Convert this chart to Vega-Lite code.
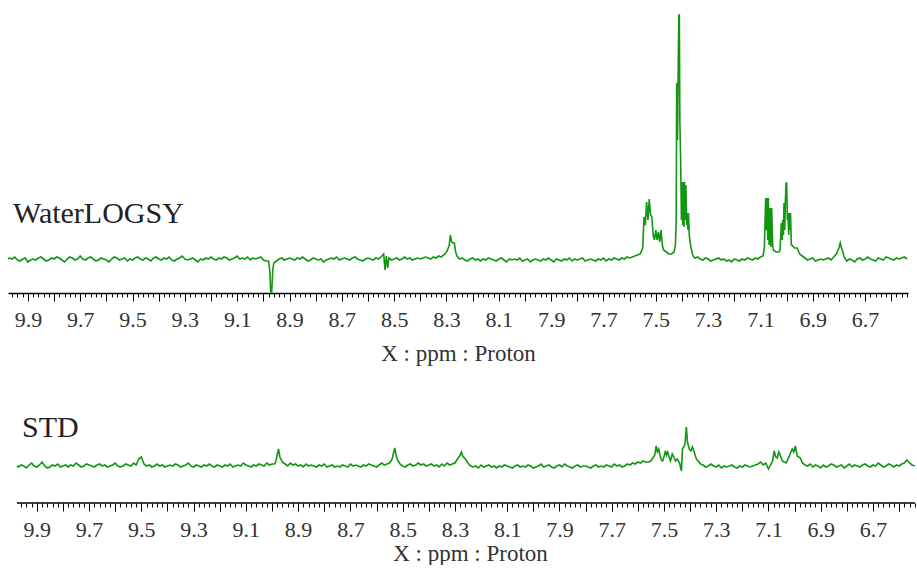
{
"$schema":"https://vega.github.io/schema/vega-lite/v6.json",
"padding":{"left":8,"top":10,"right":0,"bottom":0},
"background":"white",
"spacing":47,
"config":{"view":{"stroke":null},"font":"Liberation Serif, Times New Roman, Tinos, DejaVu Serif, serif",
"axis":{"domainColor":"#000","domainWidth":1.5,"tickColor":"#000","tickWidth":1,"labelFont":"Liberation Serif, Times New Roman, Tinos, DejaVu Serif, serif","labelFontSize":22,"labelColor":"#333","labelPadding":8,"titleFont":"Liberation Serif, Times New Roman, Tinos, DejaVu Serif, serif","titleFontSize":23,"titleFontWeight":"normal","titleColor":"#333","titlePadding":12,"grid":false,"labelFlush":false,"labelOverlap":false}},
"datasets":{
"W":[{"x":9.98,"y":1},{"x":9.97,"y":2},{"x":9.96,"y":1},{"x":9.95,"y":3},{"x":9.94,"y":0},{"x":9.93,"y":-1},{"x":9.92,"y":1},{"x":9.91,"y":2},{"x":9.90,"y":-2},{"x":9.89,"y":0},
{"x":9.88,"y":1},{"x":9.87,"y":0},{"x":9.86,"y":2},{"x":9.85,"y":3},{"x":9.84,"y":1},{"x":9.83,"y":-1},{"x":9.82,"y":0},{"x":9.81,"y":2},{"x":9.80,"y":1},{"x":9.79,"y":3},
{"x":9.78,"y":2},{"x":9.77,"y":0},{"x":9.76,"y":-2},{"x":9.75,"y":1},{"x":9.74,"y":3},{"x":9.73,"y":2},{"x":9.72,"y":0},{"x":9.71,"y":1},{"x":9.70,"y":4},{"x":9.69,"y":1},
{"x":9.68,"y":0},{"x":9.67,"y":2},{"x":9.66,"y":3},{"x":9.65,"y":1},{"x":9.64,"y":-1},{"x":9.63,"y":0},{"x":9.62,"y":2},{"x":9.61,"y":1},{"x":9.60,"y":0},{"x":9.59,"y":-2},
{"x":9.58,"y":1},{"x":9.57,"y":3},{"x":9.56,"y":2},{"x":9.55,"y":0},{"x":9.54,"y":1},{"x":9.53,"y":2},{"x":9.52,"y":-1},{"x":9.51,"y":1},{"x":9.50,"y":0},{"x":9.49,"y":2},
{"x":9.48,"y":3},{"x":9.47,"y":1},{"x":9.46,"y":0},{"x":9.45,"y":2},{"x":9.44,"y":1},{"x":9.43,"y":-1},{"x":9.42,"y":2},{"x":9.41,"y":3},{"x":9.40,"y":1},{"x":9.39,"y":0},
{"x":9.38,"y":2},{"x":9.37,"y":1},{"x":9.36,"y":3},{"x":9.35,"y":0},{"x":9.34,"y":-1},{"x":9.33,"y":1},{"x":9.32,"y":2},{"x":9.31,"y":4},{"x":9.30,"y":1},{"x":9.29,"y":0},
{"x":9.28,"y":1},{"x":9.27,"y":2},{"x":9.26,"y":0},{"x":9.25,"y":-2},{"x":9.24,"y":1},{"x":9.23,"y":0},{"x":9.22,"y":2},{"x":9.21,"y":1},{"x":9.20,"y":3},{"x":9.19,"y":1},
{"x":9.18,"y":0},{"x":9.17,"y":2},{"x":9.16,"y":1},{"x":9.15,"y":3},{"x":9.14,"y":2},{"x":9.13,"y":0},{"x":9.12,"y":1},{"x":9.11,"y":2},{"x":9.10,"y":4},{"x":9.09,"y":1},
{"x":9.08,"y":2},{"x":9.07,"y":1},{"x":9.06,"y":3},{"x":9.05,"y":0},{"x":9.04,"y":2},{"x":9.03,"y":1},{"x":9.02,"y":2},{"x":9.01,"y":3},{"x":9.00,"y":0},{"x":8.99,"y":-1},
{"x":8.98,"y":-1},{"x":8.975,"y":-12},{"x":8.972,"y":-32},{"x":8.968,"y":-32},{"x":8.964,"y":-10},{"x":8.96,"y":-3},
{"x":8.95,"y":-1},{"x":8.94,"y":1},{"x":8.93,"y":2},{"x":8.92,"y":0},{"x":8.91,"y":1},{"x":8.90,"y":2},{"x":8.89,"y":1},
{"x":8.88,"y":0},{"x":8.87,"y":2},{"x":8.86,"y":1},{"x":8.85,"y":3},{"x":8.84,"y":1},{"x":8.83,"y":-1},{"x":8.82,"y":0},{"x":8.81,"y":2},{"x":8.80,"y":1},{"x":8.79,"y":0},
{"x":8.78,"y":1},{"x":8.77,"y":-2},{"x":8.76,"y":0},{"x":8.75,"y":1},{"x":8.74,"y":2},{"x":8.73,"y":1},{"x":8.72,"y":3},{"x":8.71,"y":0},{"x":8.70,"y":1},{"x":8.69,"y":2},
{"x":8.68,"y":1},{"x":8.67,"y":0},{"x":8.66,"y":2},{"x":8.65,"y":3},{"x":8.64,"y":1},{"x":8.63,"y":0},{"x":8.62,"y":-1},{"x":8.61,"y":1},{"x":8.60,"y":2},{"x":8.59,"y":1},
{"x":8.58,"y":0},{"x":8.57,"y":2},{"x":8.56,"y":1},{"x":8.55,"y":3},{"x":8.54,"y":6},{"x":8.535,"y":-10},{"x":8.53,"y":4},{"x":8.525,"y":-8},{"x":8.52,"y":2},{"x":8.51,"y":0},
{"x":8.50,"y":1},{"x":8.49,"y":2},{"x":8.48,"y":0},{"x":8.47,"y":1},{"x":8.46,"y":3},{"x":8.45,"y":1},{"x":8.44,"y":2},{"x":8.43,"y":0},{"x":8.42,"y":1},{"x":8.41,"y":2},
{"x":8.40,"y":1},{"x":8.39,"y":2},{"x":8.38,"y":3},{"x":8.37,"y":2},{"x":8.36,"y":1},{"x":8.35,"y":3},{"x":8.34,"y":2},{"x":8.33,"y":4},{"x":8.32,"y":3},{"x":8.31,"y":5},
{"x":8.30,"y":8},{"x":8.29,"y":14},{"x":8.285,"y":25},{"x":8.28,"y":18},{"x":8.275,"y":17},{"x":8.27,"y":17},{"x":8.265,"y":8},{"x":8.26,"y":4},{"x":8.25,"y":1},
{"x":8.24,"y":2},{"x":8.23,"y":0},{"x":8.22,"y":-1},{"x":8.21,"y":1},{"x":8.20,"y":2},{"x":8.19,"y":0},{"x":8.18,"y":1},{"x":8.17,"y":-1},{"x":8.16,"y":1},{"x":8.15,"y":0},
{"x":8.14,"y":2},{"x":8.13,"y":1},{"x":8.12,"y":0},{"x":8.11,"y":-1},{"x":8.10,"y":1},{"x":8.09,"y":2},{"x":8.08,"y":0},{"x":8.07,"y":-2},{"x":8.06,"y":1},{"x":8.05,"y":0},
{"x":8.04,"y":1},{"x":8.03,"y":0},{"x":8.02,"y":2},{"x":8.01,"y":-1},{"x":8.00,"y":0},{"x":7.99,"y":1},{"x":7.98,"y":-2},{"x":7.97,"y":0},{"x":7.96,"y":1},{"x":7.95,"y":0},
{"x":7.94,"y":-1},{"x":7.93,"y":1},{"x":7.92,"y":0},{"x":7.91,"y":2},{"x":7.90,"y":0},{"x":7.89,"y":-2},{"x":7.88,"y":1},{"x":7.87,"y":0},{"x":7.86,"y":-1},{"x":7.85,"y":1},
{"x":7.84,"y":0},{"x":7.83,"y":2},{"x":7.82,"y":-1},{"x":7.81,"y":1},{"x":7.80,"y":0},{"x":7.79,"y":1},{"x":7.78,"y":2},{"x":7.77,"y":-1},{"x":7.76,"y":0},{"x":7.75,"y":1},
{"x":7.74,"y":0},{"x":7.73,"y":-1},{"x":7.72,"y":1},{"x":7.71,"y":0},{"x":7.70,"y":2},{"x":7.69,"y":-1},{"x":7.68,"y":1},{"x":7.67,"y":0},{"x":7.66,"y":2},{"x":7.65,"y":1},
{"x":7.64,"y":0},{"x":7.63,"y":2},{"x":7.62,"y":1},{"x":7.61,"y":3},{"x":7.60,"y":2},{"x":7.59,"y":3},{"x":7.58,"y":4},{"x":7.57,"y":5},{"x":7.56,"y":6},{"x":7.55,"y":12},
{"x":7.545,"y":43},{"x":7.54,"y":35},{"x":7.535,"y":58},{"x":7.53,"y":40},{"x":7.525,"y":61},{"x":7.52,"y":45},{"x":7.515,"y":43},{"x":7.51,"y":25},{"x":7.505,"y":20},{"x":7.50,"y":30},{"x":7.495,"y":20},{"x":7.49,"y":28},{"x":7.485,"y":18},{"x":7.48,"y":30},{"x":7.475,"y":15},{"x":7.47,"y":10},{"x":7.46,"y":8},{"x":7.45,"y":6},{"x":7.44,"y":6},{"x":7.43,"y":8},{"x":7.425,"y":15},{"x":7.422,"y":40},{"x":7.42,"y":177},{"x":7.417,"y":120},{"x":7.415,"y":177},{"x":7.412,"y":245},{"x":7.41,"y":245},{"x":7.408,"y":138},{"x":7.405,"y":100},{"x":7.402,"y":40},{"x":7.40,"y":78},{"x":7.397,"y":35},{"x":7.395,"y":78},{"x":7.392,"y":33},{"x":7.39,"y":78},{"x":7.387,"y":40},{"x":7.385,"y":75},{"x":7.382,"y":35},{"x":7.38,"y":47},{"x":7.377,"y":30},{"x":7.375,"y":47},{"x":7.372,"y":25},{"x":7.37,"y":20},{"x":7.365,"y":12},{"x":7.36,"y":6},{"x":7.355,"y":3},
{"x":7.35,"y":2},{"x":7.34,"y":3},{"x":7.33,"y":1},{"x":7.32,"y":0},{"x":7.31,"y":2},{"x":7.30,"y":1},{"x":7.29,"y":-1},{"x":7.28,"y":0},{"x":7.27,"y":1},{"x":7.26,"y":2},{"x":7.25,"y":0},
{"x":7.24,"y":1},{"x":7.23,"y":-1},{"x":7.22,"y":0},{"x":7.21,"y":-2},{"x":7.20,"y":1},{"x":7.19,"y":0},{"x":7.18,"y":-1},{"x":7.17,"y":1},{"x":7.16,"y":0},{"x":7.15,"y":2},
{"x":7.14,"y":1},{"x":7.13,"y":0},{"x":7.12,"y":2},{"x":7.11,"y":1},{"x":7.10,"y":3},{"x":7.09,"y":4},
{"x":7.085,"y":12},{"x":7.08,"y":62},{"x":7.077,"y":30},{"x":7.075,"y":62},{"x":7.072,"y":20},{"x":7.07,"y":62},{"x":7.067,"y":15},{"x":7.063,"y":52},{"x":7.06,"y":13},{"x":7.057,"y":52},{"x":7.053,"y":13},{"x":7.05,"y":10},{"x":7.04,"y":8},{"x":7.03,"y":8},{"x":7.025,"y":10},{"x":7.02,"y":37},{"x":7.017,"y":20},{"x":7.015,"y":40},{"x":7.012,"y":25},{"x":7.01,"y":57},{"x":7.007,"y":30},{"x":7.005,"y":57},{"x":7.002,"y":77},{"x":7.0,"y":77},{"x":6.997,"y":40},{"x":6.995,"y":47},{"x":6.992,"y":25},{"x":6.99,"y":47},{"x":6.987,"y":30},{"x":6.985,"y":47},{"x":6.982,"y":15},{"x":6.98,"y":15},{"x":6.97,"y":12},{"x":6.96,"y":12},
{"x":6.95,"y":6},{"x":6.94,"y":4},{"x":6.93,"y":2},{"x":6.92,"y":0},{"x":6.91,"y":1},{"x":6.90,"y":2},{"x":6.89,"y":-1},{"x":6.88,"y":0},{"x":6.87,"y":1},{"x":6.86,"y":0},
{"x":6.85,"y":1},{"x":6.84,"y":2},{"x":6.83,"y":0},{"x":6.82,"y":3},{"x":6.81,"y":6},{"x":6.80,"y":12},{"x":6.795,"y":17},{"x":6.79,"y":12},{"x":6.785,"y":8},{"x":6.78,"y":3},
{"x":6.77,"y":-1},{"x":6.76,"y":1},{"x":6.75,"y":0},{"x":6.74,"y":-2},{"x":6.73,"y":1},{"x":6.72,"y":2},{"x":6.71,"y":0},{"x":6.70,"y":1},{"x":6.69,"y":3},{"x":6.68,"y":1},
{"x":6.67,"y":0},{"x":6.66,"y":-1},{"x":6.65,"y":2},{"x":6.64,"y":1},{"x":6.63,"y":0},{"x":6.62,"y":3},{"x":6.61,"y":2},{"x":6.60,"y":1},{"x":6.59,"y":0},{"x":6.58,"y":2},
{"x":6.57,"y":1},{"x":6.56,"y":2},{"x":6.55,"y":3},{"x":6.54,"y":1}],
"S":[{"x":9.976,"y":1},{"x":9.97,"y":0},{"x":9.96,"y":2},{"x":9.95,"y":1},{"x":9.94,"y":-1},{"x":9.93,"y":2},{"x":9.92,"y":4},{"x":9.91,"y":1},{"x":9.90,"y":0},{"x":9.89,"y":2},
{"x":9.88,"y":5},{"x":9.87,"y":1},{"x":9.86,"y":-1},{"x":9.85,"y":0},{"x":9.84,"y":2},{"x":9.83,"y":1},{"x":9.82,"y":3},{"x":9.81,"y":0},{"x":9.80,"y":1},{"x":9.79,"y":2},
{"x":9.78,"y":0},{"x":9.77,"y":2},{"x":9.76,"y":1},{"x":9.75,"y":4},{"x":9.74,"y":2},{"x":9.73,"y":0},{"x":9.72,"y":1},{"x":9.71,"y":3},{"x":9.70,"y":2},{"x":9.69,"y":1},
{"x":9.68,"y":0},{"x":9.67,"y":2},{"x":9.66,"y":3},{"x":9.65,"y":1},{"x":9.64,"y":2},{"x":9.63,"y":0},{"x":9.62,"y":1},{"x":9.61,"y":2},{"x":9.60,"y":4},{"x":9.59,"y":1},
{"x":9.58,"y":0},{"x":9.57,"y":1},{"x":9.56,"y":3},{"x":9.55,"y":2},{"x":9.54,"y":1},{"x":9.53,"y":4},{"x":9.52,"y":2},{"x":9.51,"y":8},{"x":9.50,"y":10},{"x":9.49,"y":3},
{"x":9.48,"y":1},{"x":9.47,"y":2},{"x":9.46,"y":0},{"x":9.45,"y":1},{"x":9.44,"y":3},{"x":9.43,"y":1},{"x":9.42,"y":2},{"x":9.41,"y":0},{"x":9.40,"y":1},{"x":9.39,"y":2},
{"x":9.38,"y":1},{"x":9.37,"y":3},{"x":9.36,"y":2},{"x":9.35,"y":0},{"x":9.34,"y":1},{"x":9.33,"y":2},{"x":9.32,"y":4},{"x":9.31,"y":1},{"x":9.30,"y":0},{"x":9.29,"y":2},
{"x":9.28,"y":1},{"x":9.27,"y":0},{"x":9.26,"y":2},{"x":9.25,"y":1},{"x":9.24,"y":3},{"x":9.23,"y":1},{"x":9.22,"y":0},{"x":9.21,"y":2},{"x":9.20,"y":1},{"x":9.19,"y":0},
{"x":9.18,"y":2},{"x":9.17,"y":1},{"x":9.16,"y":3},{"x":9.15,"y":0},{"x":9.14,"y":1},{"x":9.13,"y":2},{"x":9.12,"y":1},{"x":9.11,"y":4},{"x":9.10,"y":2},{"x":9.09,"y":1},
{"x":9.08,"y":0},{"x":9.07,"y":2},{"x":9.06,"y":1},{"x":9.05,"y":3},{"x":9.04,"y":2},{"x":9.03,"y":1},{"x":9.02,"y":4},{"x":9.01,"y":2},{"x":9.00,"y":3},{"x":8.99,"y":3},
{"x":8.985,"y":6},{"x":8.98,"y":12},{"x":8.975,"y":18},{"x":8.97,"y":10},{"x":8.96,"y":5},{"x":8.95,"y":3},
{"x":8.94,"y":1},{"x":8.93,"y":4},{"x":8.92,"y":2},{"x":8.91,"y":3},{"x":8.90,"y":1},{"x":8.89,"y":2},{"x":8.88,"y":0},{"x":8.87,"y":3},{"x":8.86,"y":1},{"x":8.85,"y":2},
{"x":8.84,"y":1},{"x":8.83,"y":0},{"x":8.82,"y":2},{"x":8.81,"y":1},{"x":8.80,"y":3},{"x":8.79,"y":0},{"x":8.78,"y":1},{"x":8.77,"y":2},{"x":8.76,"y":0},{"x":8.75,"y":1},
{"x":8.74,"y":0},{"x":8.73,"y":2},{"x":8.72,"y":1},{"x":8.71,"y":0},{"x":8.70,"y":3},{"x":8.69,"y":1},{"x":8.68,"y":2},{"x":8.67,"y":1},{"x":8.66,"y":0},{"x":8.65,"y":2},
{"x":8.64,"y":1},{"x":8.63,"y":3},{"x":8.62,"y":2},{"x":8.61,"y":1},{"x":8.60,"y":0},{"x":8.59,"y":2},{"x":8.58,"y":4},{"x":8.57,"y":2},{"x":8.56,"y":3},{"x":8.55,"y":4},
{"x":8.54,"y":8},{"x":8.535,"y":14},{"x":8.53,"y":19},{"x":8.525,"y":12},{"x":8.52,"y":7},{"x":8.51,"y":3},
{"x":8.50,"y":1},{"x":8.49,"y":0},{"x":8.48,"y":2},{"x":8.47,"y":3},{"x":8.46,"y":1},{"x":8.45,"y":2},{"x":8.44,"y":4},{"x":8.43,"y":2},{"x":8.42,"y":3},{"x":8.41,"y":1},
{"x":8.40,"y":2},{"x":8.39,"y":3},{"x":8.38,"y":1},{"x":8.37,"y":2},{"x":8.36,"y":0},{"x":8.35,"y":3},{"x":8.34,"y":1},{"x":8.33,"y":4},{"x":8.32,"y":2},{"x":8.31,"y":3},
{"x":8.30,"y":4},{"x":8.29,"y":8},{"x":8.28,"y":12},{"x":8.275,"y":15},{"x":8.27,"y":11},{"x":8.26,"y":8},{"x":8.25,"y":4},{"x":8.24,"y":1},
{"x":8.23,"y":0},{"x":8.22,"y":1},{"x":8.21,"y":-1},{"x":8.20,"y":2},{"x":8.19,"y":0},{"x":8.18,"y":1},{"x":8.17,"y":2},{"x":8.16,"y":0},{"x":8.15,"y":1},{"x":8.14,"y":-1},
{"x":8.13,"y":1},{"x":8.12,"y":0},{"x":8.11,"y":2},{"x":8.10,"y":1},{"x":8.09,"y":0},{"x":8.08,"y":-1},{"x":8.07,"y":1},{"x":8.06,"y":2},{"x":8.05,"y":0},{"x":8.04,"y":1},
{"x":8.03,"y":0},{"x":8.02,"y":2},{"x":8.01,"y":1},{"x":8.00,"y":-1},{"x":7.99,"y":0},{"x":7.98,"y":1},{"x":7.97,"y":3},{"x":7.96,"y":0},{"x":7.95,"y":1},{"x":7.94,"y":2},
{"x":7.93,"y":0},{"x":7.92,"y":-1},{"x":7.91,"y":1},{"x":7.90,"y":2},{"x":7.89,"y":0},{"x":7.88,"y":3},{"x":7.87,"y":1},{"x":7.86,"y":0},{"x":7.85,"y":-1},{"x":7.84,"y":1},
{"x":7.83,"y":2},{"x":7.82,"y":0},{"x":7.81,"y":1},{"x":7.80,"y":1},{"x":7.79,"y":0},{"x":7.78,"y":-1},{"x":7.77,"y":1},{"x":7.76,"y":2},{"x":7.75,"y":0},{"x":7.74,"y":1},
{"x":7.73,"y":0},{"x":7.72,"y":2},{"x":7.71,"y":1},{"x":7.70,"y":0},{"x":7.69,"y":3},{"x":7.68,"y":1},{"x":7.67,"y":2},{"x":7.66,"y":0},{"x":7.65,"y":1},{"x":7.64,"y":3},
{"x":7.63,"y":2},{"x":7.62,"y":4},{"x":7.61,"y":3},{"x":7.60,"y":5},{"x":7.59,"y":4},{"x":7.58,"y":6},{"x":7.57,"y":5},{"x":7.56,"y":5},
{"x":7.55,"y":6},{"x":7.545,"y":8},{"x":7.535,"y":12},{"x":7.53,"y":21},{"x":7.525,"y":15},{"x":7.52,"y":18},{"x":7.515,"y":12},{"x":7.51,"y":7},{"x":7.505,"y":6},{"x":7.50,"y":10},{"x":7.495,"y":15},{"x":7.49,"y":12},{"x":7.487,"y":16},{"x":7.48,"y":10},{"x":7.475,"y":6},{"x":7.468,"y":13},{"x":7.46,"y":9},{"x":7.456,"y":6},{"x":7.449,"y":8},{"x":7.44,"y":4},{"x":7.433,"y":-4},{"x":7.429,"y":18},{"x":7.42,"y":22},{"x":7.414,"y":40},{"x":7.41,"y":25},{"x":7.403,"y":18},{"x":7.397,"y":16},{"x":7.391,"y":20},{"x":7.384,"y":15},{"x":7.376,"y":8},{"x":7.37,"y":6},{"x":7.365,"y":5},{"x":7.36,"y":3},
{"x":7.35,"y":2},{"x":7.34,"y":0},{"x":7.33,"y":1},{"x":7.32,"y":3},{"x":7.31,"y":1},{"x":7.30,"y":0},{"x":7.29,"y":2},{"x":7.28,"y":-1},{"x":7.27,"y":1},{"x":7.26,"y":0},
{"x":7.25,"y":1},{"x":7.24,"y":2},{"x":7.23,"y":0},{"x":7.22,"y":-1},{"x":7.21,"y":1},{"x":7.20,"y":0},{"x":7.19,"y":2},{"x":7.18,"y":1},{"x":7.17,"y":0},{"x":7.16,"y":1},
{"x":7.15,"y":2},{"x":7.14,"y":3},{"x":7.13,"y":5},{"x":7.12,"y":2},{"x":7.11,"y":4},{"x":7.10,"y":-2},{"x":7.09,"y":3},
{"x":7.085,"y":5},{"x":7.078,"y":16},{"x":7.072,"y":10},{"x":7.066,"y":9},{"x":7.06,"y":15},{"x":7.055,"y":12},{"x":7.047,"y":6},{"x":7.04,"y":5},{"x":7.032,"y":4},{"x":7.02,"y":11},{"x":7.009,"y":18},{"x":7.003,"y":15},{"x":6.997,"y":21},{"x":6.99,"y":11},{"x":6.978,"y":9},{"x":6.97,"y":4},{"x":6.96,"y":2},
{"x":6.95,"y":1},{"x":6.94,"y":3},{"x":6.93,"y":0},{"x":6.92,"y":2},{"x":6.91,"y":1},{"x":6.90,"y":-1},{"x":6.89,"y":2},{"x":6.88,"y":0},{"x":6.87,"y":1},{"x":6.86,"y":3},
{"x":6.85,"y":2},{"x":6.84,"y":0},{"x":6.83,"y":1},{"x":6.82,"y":2},{"x":6.81,"y":-1},{"x":6.80,"y":1},{"x":6.79,"y":3},{"x":6.78,"y":0},{"x":6.77,"y":2},{"x":6.76,"y":1},
{"x":6.75,"y":0},{"x":6.74,"y":2},{"x":6.73,"y":3},{"x":6.72,"y":1},{"x":6.71,"y":0},{"x":6.70,"y":2},{"x":6.69,"y":1},{"x":6.68,"y":4},{"x":6.67,"y":2},{"x":6.66,"y":0},
{"x":6.65,"y":1},{"x":6.64,"y":3},{"x":6.63,"y":2},{"x":6.62,"y":0},{"x":6.61,"y":2},{"x":6.60,"y":1},{"x":6.59,"y":3},{"x":6.58,"y":4},{"x":6.57,"y":7},{"x":6.56,"y":4},{"x":6.55,"y":2},{"x":6.54,"y":1}],
"LW":[{"x":9.957,"y":37,"t":"WaterLOGSY"}],
"LS":[{"x":9.957,"y":30,"t":"STD"}],
"RS":[{"a":9.976,"b":6.539,"y":-36}]
},
"vconcat":[
{"width":900,"height":283,
"layer":[
{"data":{"name":"W"},"mark":{"type":"line","color":"#129612","strokeWidth":1.6,"clip":true},
"encoding":{"x":{"field":"x","type":"quantitative","scale":{"domain":[6.536,9.976],"reverse":true,"nice":false,"zero":false},
"axis":{"orient":"bottom","title":"X : ppm : Proton","tickCount":172,
"labelExpr":"(abs(datum.value*10-round(datum.value*10))<0.001 && round(datum.value*10)%2==1) ? format(datum.value,'.1f') : ''",
"tickSize":{"condition":{"test":"abs(datum.value*10-round(datum.value*10))<0.001","value":8},"value":4}}},
"y":{"field":"y","type":"quantitative","scale":{"domain":[-33,250],"nice":false,"zero":false},"axis":null}}},
{"data":{"name":"LW"},"mark":{"type":"text","align":"left","baseline":"alphabetic","font":"Liberation Serif, Times New Roman, Tinos, DejaVu Serif, serif","fontSize":30,"color":"#222"},
"encoding":{"x":{"field":"x","type":"quantitative"},"y":{"field":"y","type":"quantitative"},"text":{"field":"t","type":"nominal"}}}
]},
{"width":907,"height":89,
"layer":[
{"data":{"name":"S"},"mark":{"type":"line","color":"#129612","strokeWidth":1.6,"clip":true},
"encoding":{"x":{"field":"x","type":"quantitative","scale":{"domain":[6.539,10.0104],"reverse":true,"nice":false,"zero":false},
"axis":{"orient":"bottom","title":"X : ppm : Proton","tickCount":172,"domain":false,"titleX":462,"titlePadding":2,
"labelExpr":"(abs(datum.value*10-round(datum.value*10))<0.001 && round(datum.value*10)%2==1) ? format(datum.value,'.1f') : ''",
"tickOpacity":{"condition":{"test":"datum.value>9.977","value":0},"value":1},
"tickSize":{"condition":{"test":"abs(datum.value*10-round(datum.value*10))<0.001","value":8},"value":4}}},
"y":{"field":"y","type":"quantitative","scale":{"domain":[-36,53],"nice":false,"zero":false},"axis":null}}},
{"data":{"name":"RS"},"mark":{"type":"rule","color":"#000","strokeWidth":1.5},
"encoding":{"x":{"field":"a","type":"quantitative"},"x2":{"field":"b"},"y":{"field":"y","type":"quantitative"}}},
{"data":{"name":"LS"},"mark":{"type":"text","align":"left","baseline":"alphabetic","font":"Liberation Serif, Times New Roman, Tinos, DejaVu Serif, serif","fontSize":30,"color":"#222"},
"encoding":{"x":{"field":"x","type":"quantitative"},"y":{"field":"y","type":"quantitative"},"text":{"field":"t","type":"nominal"}}}
]}
]
}
